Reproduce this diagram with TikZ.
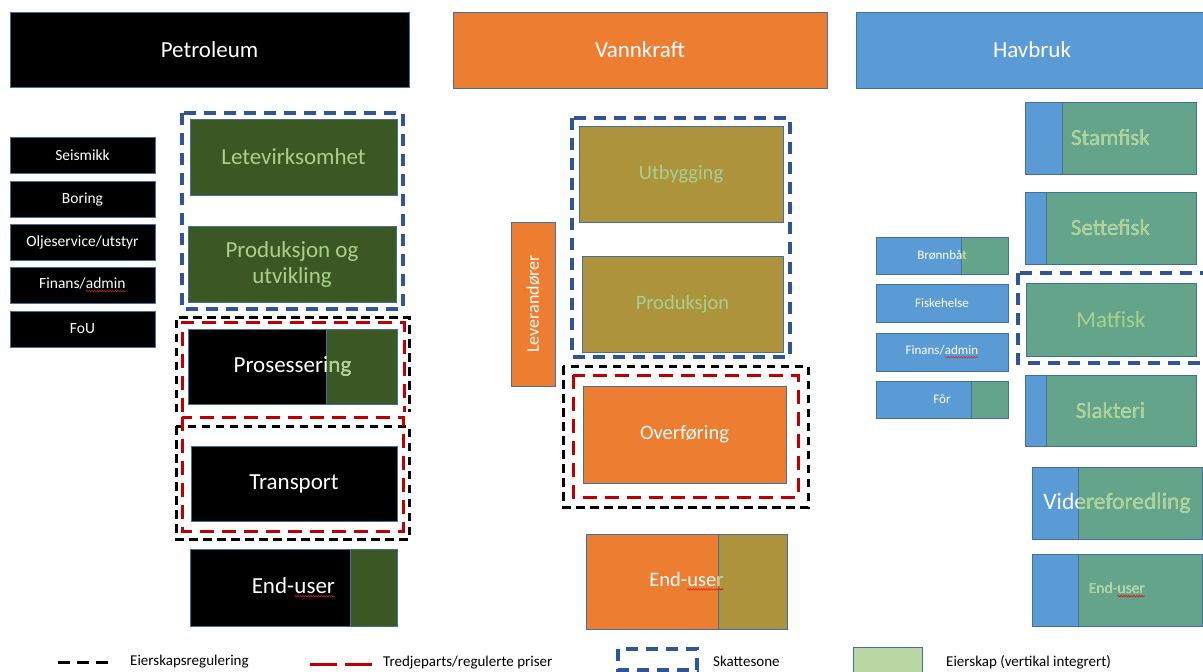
\documentclass[tikz,border=0pt]{standalone}
\usepackage{fontspec}
\setmainfont{Carlito}
\usetikzlibrary{decorations.pathmorphing}
\definecolor{spellred}{HTML}{E02020}
\definecolor{cellborder}{HTML}{41719C}
\definecolor{orangec}{HTML}{ED7D31}
\definecolor{bluec}{HTML}{5B9BD5}
\definecolor{darkgreen}{HTML}{3A5724}
\definecolor{lightgr}{HTML}{A9D18E}
\definecolor{olive}{HTML}{AC933C}
\definecolor{teal}{HTML}{64A48A}
\definecolor{dashblue}{HTML}{2F5597}
\definecolor{dashred}{HTML}{C00000}
\definecolor{legendgreen}{HTML}{B8D7A2}
\newcommand{\spell}[1]{\tikz[baseline=(spw.base), x=1pt, y=1pt]{%
  \node[inner sep=0pt, outer sep=0pt, draw=none, fill=none, rotate=0, minimum width=0pt, minimum height=0pt] (spw) {#1};
  \draw[draw=spellred, line width=0.5pt, decorate, decoration={snake, amplitude=0.8pt, segment length=2.6pt}]
    ([yshift=-2.6pt]spw.base west) -- ([yshift=-2.6pt]spw.base east);}}
\newcommand{\fsH}{\fontsize{23}{27}\selectfont}
\newcommand{\fsB}{\fontsize{23}{26}\selectfont}
\newcommand{\fsM}{\fontsize{20.5}{24}\selectfont}
\newcommand{\fsS}{\fontsize{15.5}{18}\selectfont}
\newcommand{\fsT}{\fontsize{13}{16}\selectfont}
\newcommand{\fsL}{\fontsize{15}{18}\selectfont}
% name x1 y1 x2 y2 xsplit leftfill rightfill text
\newcommand{\splitcell}[9]{%
  \node[cell, fill=#7, minimum width={(#4-#2)*1pt}, minimum height={(#5-#3)*1pt}]
    (#1) at ({(#2+#4)/2},{(#3+#5)/2}) {};
  \draw[cellline, fill=#8] (#6,#3) rectangle (#4,#5);
  \node[celltext, text=white] (#1-t) at (#1.center) {#9};
  \begin{scope}
    \clip (#6,#3) rectangle (#4,#5);
    \node[celltext, text=lightgr] (#1-g) at (#1.center) {#9};
  \end{scope}}
\tikzset{
  cell/.style={draw=cellborder, line width=0.8pt, inner sep=0pt, outer sep=0pt, text=white, align=center},
  cellline/.style={draw=cellborder, line width=0.8pt},
  celltext/.style={inner sep=0pt, align=center},
  bluezone/.style={draw=dashblue, line width=3.4pt, dash pattern=on 12pt off 8pt},
  redzone/.style={draw=dashred, line width=3pt, dash pattern=on 14pt off 8pt},
  blackzone/.style={draw=black, line width=3pt, dash pattern=on 8.5pt off 5.5pt},
  legtext/.style={anchor=west, inner sep=0pt, font=\fsL, text=black},
}
\begin{document}
\begin{tikzpicture}[x=1pt,y=-1pt]
\useasboundingbox (0,0) rectangle (1203,672);
\clip (0,0) rectangle (1203,672);
\fill[white] (0,0) rectangle (1203,672);

% headers
\node[cell, fill=black, minimum width=399pt, minimum height=75pt, font=\fsH] (petroleum) at (209.5,49.5) {Petroleum};
\node[cell, fill=orangec, minimum width=374pt, minimum height=76pt, font=\fsH] (vannkraft) at (640,50) {Vannkraft};
\node[cell, fill=bluec, minimum width=352pt, minimum height=76pt, font=\fsH] (havbruk) at (1032,50) {Havbruk};

% petroleum small boxes
\node[cell, fill=black, minimum width=145pt, minimum height=36pt, font=\fsS] (seismikk) at (82.5,155) {Seismikk};
\node[cell, fill=black, minimum width=145pt, minimum height=36pt, font=\fsS] (boring) at (82.5,199) {Boring};
\node[cell, fill=black, minimum width=145pt, minimum height=36pt, font=\fsS] (oljeservice) at (82.5,242) {Oljeservice/utstyr};
\node[cell, fill=black, minimum width=145pt, minimum height=36pt, font=\fsS] (finans1) at (82.5,285) {Finans/\spell{admin}};
\node[cell, fill=black, minimum width=145pt, minimum height=36pt, font=\fsS] (fou) at (82.5,329) {FoU};

% petroleum chain
\node[cell, fill=darkgreen, text=lightgr, minimum width=207pt, minimum height=76pt, font=\fsB] (lete) at (293.5,157) {Letevirksomhet};
\node[cell, fill=darkgreen, text=lightgr, minimum width=208pt, minimum height=76pt, font=\fsB] (produtv) at (292,264) {Produksjon og\\utvikling};
\splitcell{prosess}{188}{329}{397}{404}{326}{black}{darkgreen}{\fsB Prosessering}
\node[cell, fill=black, minimum width=206pt, minimum height=75pt, font=\fsB] (transport) at (294,483.5) {Transport};
\splitcell{enduser1}{190}{549}{397}{626}{350}{black}{darkgreen}{\fsB End-\spell{user}}

\draw[bluezone] (182,113) rectangle (403,309);
\draw[blackzone] (176,412) -- (176,317) -- (409,317) -- (409,412);
\draw[blackzone] (176,426) rectangle (409,539);
\draw[redzone] (182,412) -- (182,322) -- (404,322) -- (404,412);
\draw[redzone] (182,417) rectangle (403,531);

% vannkraft
\node[cell, fill=olive, text=lightgr, minimum width=204pt, minimum height=96pt, font=\fsM] (utbygging) at (681,174) {Utbygging};
\node[cell, fill=olive, text=lightgr, minimum width=201pt, minimum height=96pt, font=\fsM] (produksjon) at (682.5,304) {Produksjon};
\node[cell, fill=orangec, minimum width=44pt, minimum height=164pt] (lev) at (533,304) {};
\node[celltext, text=white, rotate=90, font=\fontsize{18}{21}\selectfont] (lev-t) at (lev.center) {Leverandører};
\node[cell, fill=orangec, minimum width=203pt, minimum height=97pt, font=\fsM] (overforing) at (684.5,434.5) {Overføring};
\splitcell{enduser2}{586}{534}{787}{629}{718}{orangec}{olive}{\fsM End-\spell{user}}

\draw[bluezone] (572,118) rectangle (790,357);
\draw[blackzone] (563,366) rectangle (808,507);
\draw[redzone] (573,375) rectangle (798,497);

% havbruk small boxes
\splitcell{bronnbat}{876}{237}{1008}{274}{961}{bluec}{teal}{\fsT Brønnbåt}
\node[cell, fill=bluec, minimum width=132pt, minimum height=38pt, font=\fsT] (fiskehelse) at (942,303) {Fiskehelse};
\node[cell, fill=bluec, minimum width=132pt, minimum height=38pt, font=\fsT] (finans2) at (942,352) {Finans/\spell{admin}};
\splitcell{for}{876}{381}{1008}{418}{971}{bluec}{teal}{\fsT Fôr}

% havbruk chain
\splitcell{stamfisk}{1025}{102}{1196}{174}{1062}{bluec}{teal}{\fsB Stamfisk}
\splitcell{settefisk}{1025}{192}{1196}{264}{1046}{bluec}{teal}{\fsB Settefisk}
\node[cell, fill=teal, text=lightgr, minimum width=170pt, minimum height=73pt, font=\fsB] (matfisk) at (1111,319.5) {Matfisk};
\splitcell{slakteri}{1025}{375}{1196}{446}{1046}{bluec}{teal}{\fsB Slakteri}
\splitcell{videre}{1032}{467}{1202}{539}{1078}{bluec}{teal}{\fontsize{23.5}{27}\selectfont Videreforedling}
\splitcell{enduser3}{1032}{554}{1202}{626}{1078}{bluec}{teal}{\fsS End-\spell{user}}

\draw[bluezone] (1018,273) rectangle (1215,363);

% legend
\coordinate (lb1) at (58,662);
\coordinate (lb2) at (115,662);
\draw[draw=black, line width=3pt, dash pattern=on 12pt off 7pt] (lb1) -- (lb2);
\node[legtext] (leg1) at (130,662) {Eierskapsregulering};
\coordinate (lr1) at (310,664);
\coordinate (lr2) at (372,664);
\draw[draw=dashred, line width=3pt, dash pattern=on 27pt off 8pt] (lr1) -- (lr2);
\node[legtext] (leg2) at (383,663) {Tredjeparts/regulerte priser};
\draw[bluezone] (618,649) rectangle (697,670);
\node[legtext] (leg3) at (713,661) {Skattesone};
\draw[cellline, fill=legendgreen] (853,647) rectangle (922,676);
\node[legtext] (leg4) at (946,662) {Eierskap (vertikal integrert)};
\end{tikzpicture}
\end{document}
